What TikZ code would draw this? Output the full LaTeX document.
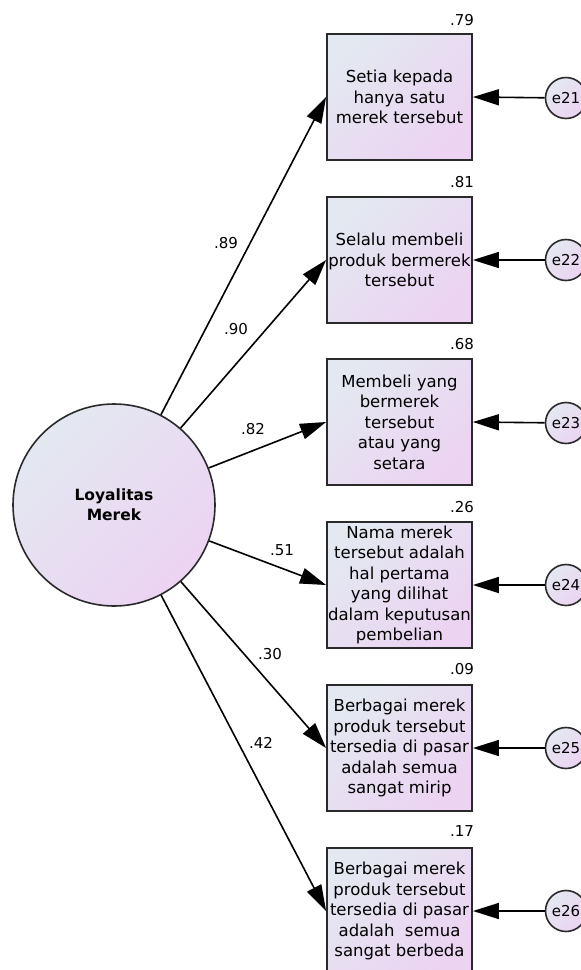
\documentclass[tikz,border=0pt]{standalone}
\usepackage{fontspec}
\setmainfont{DejaVu Sans}
\usetikzlibrary{arrows.meta}
\definecolor{fillA}{HTML}{E3E8F1}
\definecolor{fillB}{HTML}{ECD3F2}
\definecolor{edge}{HTML}{2A2A2A}
\begin{document}
\begin{tikzpicture}[x=1pt,y=-1pt,
  grad/.style={top color=fillA,bottom color=fillB,shading angle=45},
  indicator/.style={draw=edge,line width=1.8pt,grad,minimum width=145pt,minimum height=126pt,
    inner sep=0pt,align=center,font=\fontsize{16.5}{20.5}\selectfont},
  latent/.style={circle,draw=edge,line width=1.6pt,grad,minimum size=202pt,inner sep=0pt,
    align=center,font=\bfseries\fontsize{15.5}{20}\selectfont},
  errnode/.style={circle,draw=edge,line width=1.6pt,grad,minimum size=41pt,inner sep=0pt,
    font=\fontsize{15}{15}\selectfont},
  loading/.style={draw=black,line width=1.6pt,-{Triangle[length=26pt,width=16pt]}},
  coef/.style={font=\fontsize{15}{15}\selectfont,inner sep=0pt}]
\clip (0,0) rectangle (581,970);
\fill[white] (0,0) rectangle (581,970);

% latent construct
\node[latent] (lm) at (114,505) {Loyalitas\\Merek};

% observed indicators
\node[indicator] (b1) at (399.5,97)  {Setia kepada\\hanya satu\\merek tersebut};
\node[indicator] (b2) at (399.5,260) {Selalu membeli\\produk bermerek\\tersebut};
\node[indicator] (b3) at (399.5,422) {Membeli yang\\bermerek\\tersebut\\atau yang\\setara};
\node[indicator] (b4) at (399.5,585) {Nama merek\\tersebut adalah\\hal pertama\\yang dilihat\\dalam keputusan\\pembelian};
\node[indicator] (b5) at (399.5,748) {Berbagai merek\\produk tersebut\\tersedia di pasar\\adalah semua\\sangat mirip};
\node[indicator] (b6) at (399.5,911) {Berbagai merek\\produk tersebut\\tersedia di pasar\\adalah\ \ semua\\sangat berbeda};

% error terms
\node[errnode] (e1) at (566,98)  {e21};
\node[errnode] (e2) at (566,260) {e22};
\node[errnode] (e3) at (566,423) {e23};
\node[errnode] (e4) at (566,585) {e24};
\node[errnode] (e5) at (566,748) {e25};
\node[errnode] (e6) at (566,911) {e26};

% squared multiple correlations
\node[coef] (r1) at (462,20)  {.79};
\node[coef] (r2) at (462,182) {.81};
\node[coef] (r3) at (462,344) {.68};
\node[coef] (r4) at (462,507) {.26};
\node[coef] (r5) at (462,669) {.09};
\node[coef] (r6) at (462,831) {.17};

% factor loadings
\foreach \i in {1,...,6} {
  \draw[loading] (lm) -- (b\i.west);
  \draw[loading] (e\i) -- (b\i.east);
}
\node[coef] (l1) at (226,243) {.89};
\node[coef] (l2) at (236,329) {.90};
\node[coef] (l3) at (253,429) {.82};
\node[coef] (l4) at (282,550) {.51};
\node[coef] (l5) at (270,654) {.30};
\node[coef] (l6) at (261,743) {.42};
\end{tikzpicture}
\end{document}
